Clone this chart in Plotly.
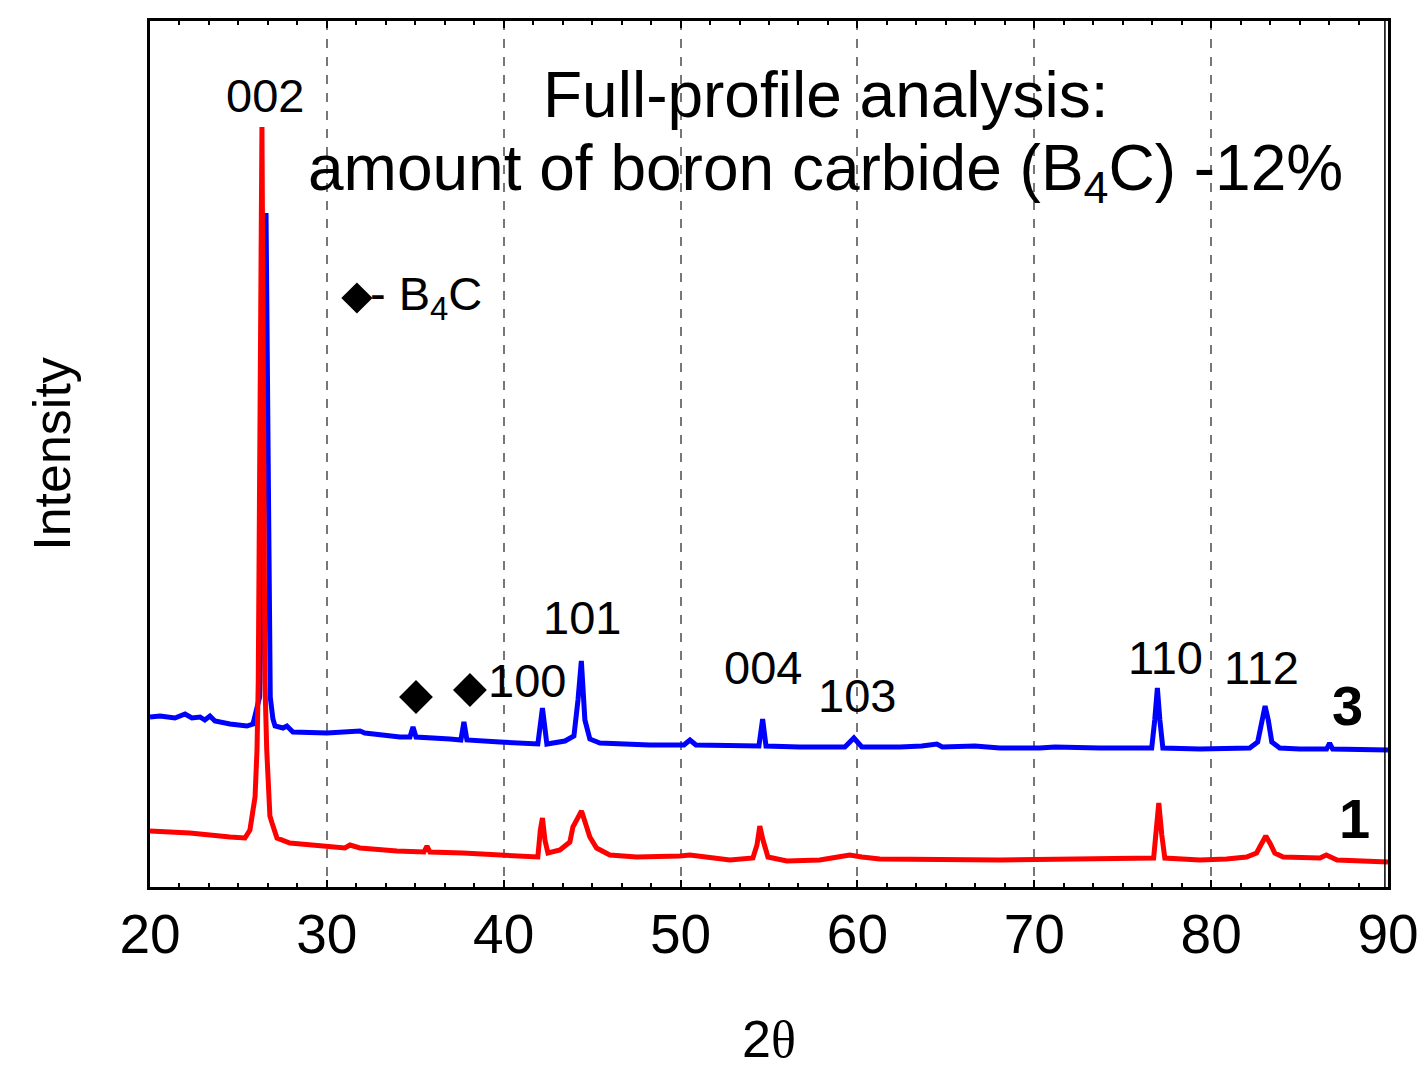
import plotly.graph_objects as go

# XRD patterns, 2-theta (deg) vs intensity (a.u.)
# Sample 3 (blue)
two_theta_3 = [20.0, 20.57, 21.41, 21.98, 22.37, 22.83, 23.1, 23.39, 23.67, 24.52, 25.48, 25.82,
               26.2, 26.4, 26.56, 26.68, 26.8, 26.95, 27.07, 27.52, 27.74, 28.08, 30.0, 31.87,
               32.15, 34.13, 34.7, 34.87, 35.04, 36.96, 37.58, 37.75, 37.92, 39.78, 41.93, 42.19,
               42.44, 43.46, 43.97, 44.2, 44.39, 44.59, 44.87, 45.44, 48.26, 50.19, 50.53, 50.87,
               53.35, 54.43, 54.64, 54.83, 56.74, 59.29, 59.8, 60.25, 62.4, 63.64, 64.49, 64.8,
               66.64, 68.05, 70.31, 71.16, 73.7, 76.64, 76.81, 76.96, 77.1, 77.27, 79.36, 82.18,
               82.63, 82.86, 83.05, 83.23, 83.43, 83.88, 85.0, 86.53, 86.7, 86.87, 90.0]
intensity_3 = [170, 171, 169, 173, 169, 170, 167, 171, 166, 163, 161, 163,
               190, 400, 674, 400, 190, 168, 161, 159, 161, 155, 154, 156,
               154, 150, 150, 160, 150, 148, 147, 165, 147, 145, 143, 179,
               143, 146, 151, 187, 226, 167, 148, 144, 142, 142, 147, 142,
               141, 141, 168, 141, 140, 140, 149, 140, 140, 141, 143, 140,
               141, 139, 139, 140, 139, 139, 167, 199, 167, 139, 138, 139,
               145, 167, 181, 167, 145, 139, 138, 138, 144, 138, 137]

# Sample 1 (red)
two_theta_1 = [20.0, 22.26, 24.52, 25.37, 25.65, 25.94, 26.05, 26.12, 26.33, 26.5, 26.6, 26.78,
               26.9, 27.18, 27.91, 30.0, 31.02, 31.31, 31.87, 33.96, 35.49, 35.66, 35.83, 37.69,
               39.78, 41.48, 41.93, 42.07, 42.19, 42.33, 42.5, 43.18, 43.74, 43.91, 44.4, 44.87,
               45.25, 46.0, 47.51, 49.96, 50.53, 52.79, 54.09, 54.32, 54.48, 54.66, 54.94, 56.01,
               57.87, 58.89, 59.57, 60.25, 61.27, 68.05, 76.53, 76.75, 76.87, 77.04, 77.21, 77.38,
               79.36, 80.87, 82.0, 82.57, 82.81, 83.09, 83.32, 83.6, 84.07, 85.58, 86.15, 86.51,
               87.12, 90.0]
intensity_1 = [56, 54, 50, 49, 57, 90, 137, 204, 760, 204, 137, 71,
               64, 49, 44, 40, 39, 42, 39, 36, 35, 41, 35, 34,
               32, 31, 30, 57, 69, 47, 34, 37, 45, 60, 76, 50,
               39, 32, 30, 31, 32, 27, 29, 42, 61, 47, 30, 26,
               27, 30, 32, 30, 28, 27, 28, 29, 52, 84, 52, 29,
               27, 28, 30, 34, 42, 51, 44, 34, 30, 29, 29, 32,
               27, 25]

# Reflection indices and label anchor positions
hkl_labels = ["002", "100", "101", "004", "103", "110", "112"]
hkl_x = [26.5, 41.3, 44.4, 54.65, 60.0, 77.4, 82.86]
hkl_y = [792, 207, 270, 220, 192, 230, 220]

# B4C reflections marked with diamonds
b4c_x = [35.04, 38.09]
b4c_y = [190, 197]

# Curve numbers
curve_names = ["3", "1"]
curve_name_x = [87.72, 88.1]
curve_name_y = [182, 69]

x_ticks = [20, 30, 40, 50, 60, 70, 80, 90]

FONT = "Liberation Sans, Arial, sans-serif"

fig = go.Figure()
fig.add_trace(go.Scatter(x=two_theta_3, y=intensity_3, mode="lines",
                         line=dict(color="#0000ff", width=5), showlegend=False))
fig.add_trace(go.Scatter(x=two_theta_1, y=intensity_1, mode="lines",
                         line=dict(color="#ff0000", width=5), showlegend=False))
fig.add_trace(go.Scatter(x=b4c_x, y=b4c_y, mode="markers",
                         marker=dict(symbol="diamond", size=26, color="black"),
                         showlegend=False))
# key diamond for the B4C note
fig.add_trace(go.Scatter(x=[31.7], y=[589], mode="markers",
                         marker=dict(symbol="diamond", size=24, color="black"),
                         showlegend=False))

for t, x, y in zip(hkl_labels, hkl_x, hkl_y):
    fig.add_annotation(x=x, y=y, text=t, showarrow=False,
                       font=dict(family=FONT, size=47, color="black"))

for t, x, y in zip(curve_names, curve_name_x, curve_name_y):
    fig.add_annotation(x=x, y=y, text="<b>" + t + "</b>", showarrow=False,
                       font=dict(family=FONT, size=56, color="black"))

fig.add_annotation(x=58.2, y=792, text="Full-profile analysis:", showarrow=False,
                   font=dict(family=FONT, size=64, color="black"))
fig.add_annotation(x=58.2, y=715, text="amount of boron carbide (B<sub>4</sub>C) -12%",
                   showarrow=False, font=dict(family=FONT, size=64, color="black"))
fig.add_annotation(x=32.35, y=590, text="- B<sub>4</sub>C",
                   showarrow=False, xanchor="left",
                   font=dict(family=FONT, size=47, color="black"))

# inner line of the double right-hand frame
fig.add_shape(type="line", xref="paper", yref="paper", x0=0.9975, x1=0.9975, y0=0, y1=1,
              line=dict(color="black", width=1.5))

fig.update_xaxes(
    range=[20, 90], tickvals=x_ticks, ticktext=[str(v) for v in x_ticks],
    showline=True, linewidth=3, linecolor="black", mirror="ticks",
    ticks="inside", ticklen=7, tickwidth=2, tickcolor="black",
    minor=dict(dtick=10 / 6, ticks="inside", ticklen=4, tickwidth=2, tickcolor="black",
               showgrid=False),
    showgrid=True, gridcolor="#777777", gridwidth=1.6, griddash="dash",
    tickfont=dict(family=FONT, size=55, color="black"),
    ticklabelstandoff=-3,
    title=dict(text="2<span style='font-family:Liberation Serif'>θ</span>",
               font=dict(family=FONT, size=52, color="black"), standoff=62),
    zeroline=False, automargin=False,
)
fig.update_yaxes(
    range=[0, 866], showticklabels=False, ticks="", showgrid=False, zeroline=False,
    showline=True, linewidth=3, linecolor="black", mirror=True, automargin=False,
    title=dict(text="Intensity", font=dict(family=FONT, size=52, color="black"), standoff=60),
)

fig.update_layout(
    width=1426, height=1068,
    margin=dict(l=150, r=38, t=21, b=181),
    paper_bgcolor="white", plot_bgcolor="white",
)

fig.write_html("out.html")
